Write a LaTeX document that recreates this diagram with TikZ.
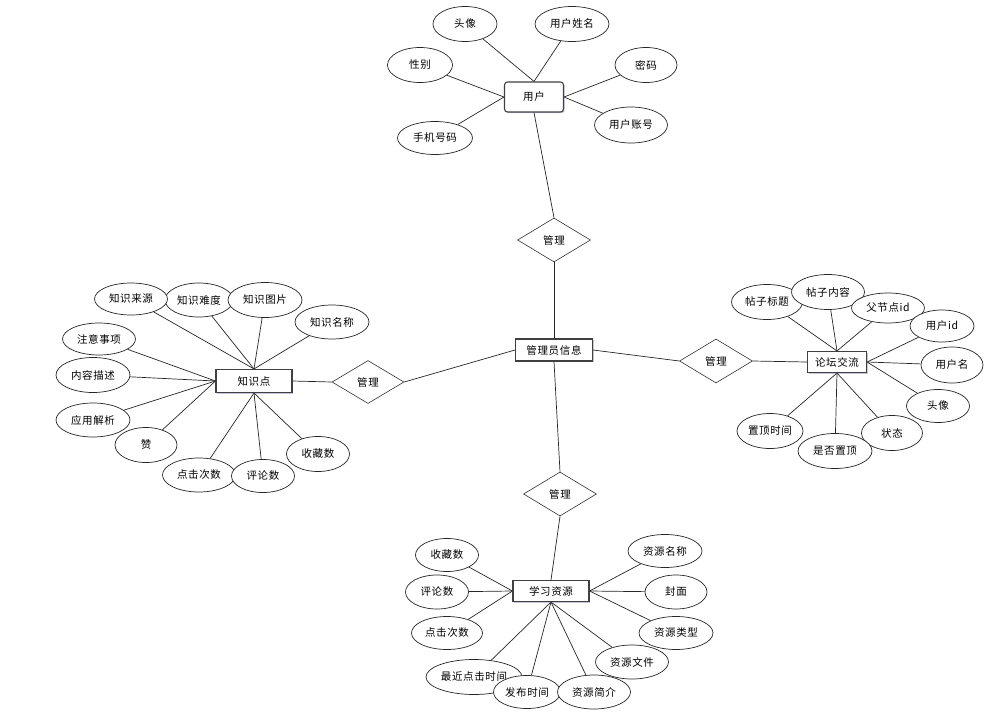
\documentclass[tikz,border=0pt]{standalone}
\usepackage{fontspec}
\newfontfamily\cjk[LetterSpace=6]{Noto Sans CJK SC}
\usetikzlibrary{shapes.geometric,shadows,backgrounds}
\begin{document}
\begin{tikzpicture}[x=1pt,y=-1pt,
  every node/.style={font=\cjk\fontsize{10.5}{12}\selectfont, inner sep=0pt},
  ent/.style={draw=black!75, line width=1.1pt, fill=white, rectangle,
     drop shadow={shadow xshift=1.2pt, shadow yshift=-1.2pt, fill=blue!30!gray, opacity=0.35}},
  attr/.style 2 args={ellipse, draw=black!85, line width=0.7pt, fill=white, minimum width=#1, minimum height=#2},
  rel/.style={diamond, draw=black!80, line width=0.6pt, fill=white, minimum width=73, minimum height=44, aspect=1.66},
  ln/.style={draw=black!85, line width=0.7pt}]
\useasboundingbox (0,0) rectangle (1002,726);

% entities
\node[ent, rounded corners=3pt, minimum width=59, minimum height=30] (user) at (534,97) {用户};
\node[ent, minimum width=77, minimum height=22] (admin) at (554,350) {管理员信息};
\node[ent, minimum width=76, minimum height=23] (kn) at (254,381) {知识点};
\node[ent, minimum width=59, minimum height=21] (forum) at (837,362) {论坛交流};
\node[ent, minimum width=76, minimum height=21] (res) at (551,591) {学习资源};

% relations
\node[rel] (d1) at (554,240) {管理};
\node[rel] (d2) at (560,494) {管理};
\node[rel, minimum width=72, minimum height=43] (dL) at (368,382) {管理};
\node[rel] (dR) at (716,361) {管理};

% user attributes
\node[attr={64}{35}] (u1) at (465,24) {头像};
\node[attr={74}{35}] (u2) at (572,24) {用户姓名};
\node[attr={65}{35}] (u3) at (420,65) {性别};
\node[attr={62}{35}] (u4) at (646,65) {密码};
\node[attr={75}{33}] (u5) at (435,138) {手机号码};
\node[attr={73}{36}] (u6) at (631,125) {用户账号};

% knowledge attributes
\node[attr={68}{34}] (k2) at (199,300) {知识难度};
\node[attr={73}{32}] (k1) at (131,299) {知识来源};
\node[attr={74}{35}] (k3) at (265,300) {知识图片};
\node[attr={74}{34}] (k4) at (332,322) {知识名称};
\node[attr={73}{32}] (k5) at (99,339) {注意事项};
\node[attr={74}{35}] (k6) at (93,375) {内容描述};
\node[attr={74}{34}] (k7) at (93,420) {应用解析};
\node[attr={62}{35}] (k8) at (146,445) {赞};
\node[attr={73}{34}] (k9) at (199,475) {点击次数};
\node[attr={63}{33}] (k10) at (263,476) {评论数};
\node[attr={63}{35}] (k11) at (318,454) {收藏数};

% forum attributes
\node[attr={71}{35}] (f1) at (767,302) {帖子标题};
\node[attr={73}{35}] (f2) at (828,292) {帖子内容};
\node[attr={73}{30}] (f3) at (888,308) {父节点id};
\node[attr={64}{32}] (f4) at (942,326) {用户id};
\node[attr={62}{36}] (f5) at (952,365) {用户名};
\node[attr={63}{33}] (f6) at (938,406) {头像};
\node[attr={61}{35}] (f7) at (892,433) {状态};
\node[attr={66}{35}] (f8) at (770,431) {置顶时间};
\node[attr={74}{35}] (f9) at (835,451) {是否置顶};

% resource attributes
\node[attr={63}{33}] (r1) at (447,555) {收藏数};
\node[attr={63}{34}] (r2) at (437,592) {评论数};
\node[attr={71}{33}] (r3) at (447,633) {点击次数};
\node[attr={74}{33}] (r4) at (665,551) {资源名称};
\node[attr={62}{34}] (r5) at (676,592) {封面};
\node[attr={74}{33}] (r6) at (676,633) {资源类型};
\node[attr={73}{34}] (r7) at (632,662) {资源文件};
\node[attr={96}{35}] (r8) at (474,677) {最近点击时间};
\node[attr={67}{33}] (r9) at (527,692) {发布时间};
\node[attr={73}{34}] (r10) at (594,692) {资源简介};

\begin{scope}[on background layer]
  % main structure
  \draw[ln] (user.south) -- (d1.north);
  \draw[ln] (d1.south) -- (admin.north);
  \draw[ln] (admin.south) -- (d2.north);
  \draw[ln] (d2.south) -- (res.north);
  \draw[ln] (admin.west) -- (dL.east);
  \draw[ln] (dL.west) -- (kn.east);
  \draw[ln] (admin.east) -- (dR.west);
  \draw[ln] (dR.east) -- (forum.west);
  % user
  \draw[ln] (u1) -- (user.north);
  \draw[ln] (u2) -- (user.north);
  \draw[ln] (u3) -- (user.west);
  \draw[ln] (u5) -- (user.west);
  \draw[ln] (u4) -- (user.east);
  \draw[ln] (u6) -- (user.east);
  % knowledge
  \foreach \n in {k1,k2,k3,k4} \draw[ln] (\n) -- (kn.north);
  \foreach \n in {k5,k6,k7,k8} \draw[ln] (\n) -- (kn.west);
  \foreach \n in {k9,k10,k11} \draw[ln] (\n) -- (kn.south);
  % forum
  \foreach \n in {f1,f2,f3} \draw[ln] (\n) -- (forum.north);
  \foreach \n in {f4,f5,f6} \draw[ln] (\n) -- (forum.east);
  \foreach \n in {f7,f8,f9} \draw[ln] (\n) -- (forum.south);
  % resource
  \foreach \n in {r1,r2,r3} \draw[ln] (\n) -- (res.west);
  \foreach \n in {r4,r5,r6} \draw[ln] (\n) -- (res.east);
  \foreach \n in {r7,r8,r9,r10} \draw[ln] (\n) -- (res.south);
\end{scope}
\end{tikzpicture}
\end{document}
